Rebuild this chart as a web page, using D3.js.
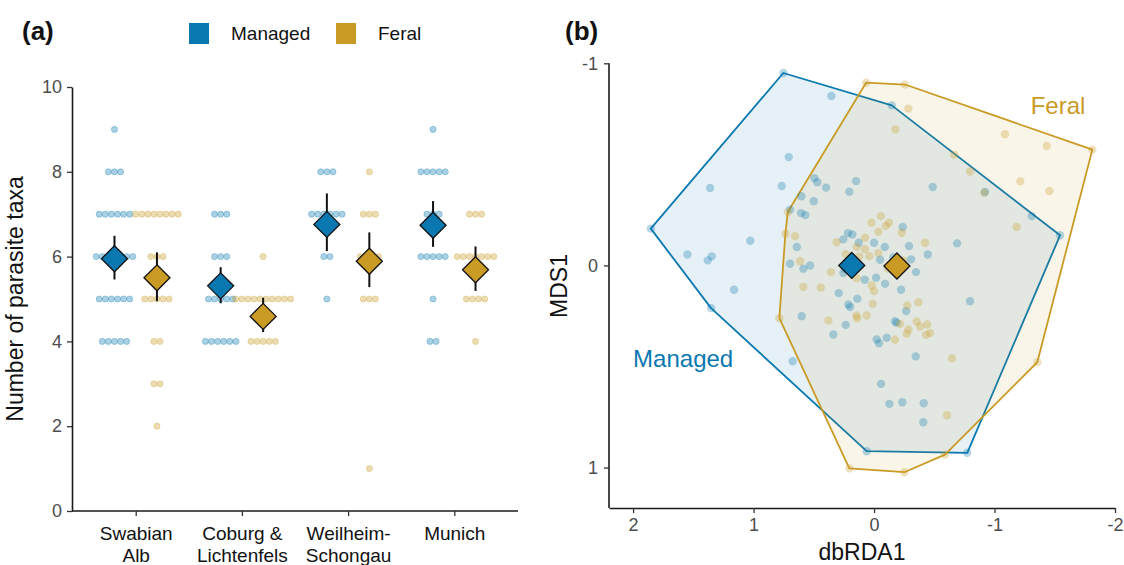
<!DOCTYPE html>
<html>
<head>
<meta charset="utf-8">
<script src="https://cdn.jsdelivr.net/npm/d3@7"></script>
<style>
  html, body { margin: 0; padding: 0; background: #fff; }
  svg { display: block; font-family: "Liberation Sans", Arial, sans-serif; }
</style>
</head>
<body>
<svg id="chart" width="1124" height="565"></svg>
<script>
// ---------------- DATA ----------------
const sites = ["Swabian Alb", "Coburg & Lichtenfels", "Weilheim-Schongau", "Munich"];
const siteLabelLines = [["Swabian", "Alb"], ["Coburg &", "Lichtenfels"], ["Weilheim-", "Schongau"], ["Munich"]];
const groups = ["Managed", "Feral"];
const taxaLevels = [1, 2, 3, 4, 5, 6, 7, 8, 9];
// number of colonies per taxa level (1..9), per site
const managedCounts = [
  [0, 0, 0, 5, 6, 7, 6, 3, 1],
  [0, 0, 0, 6, 5, 3, 3, 0, 0],
  [0, 0, 0, 0, 1, 2, 6, 3, 0],
  [0, 0, 0, 2, 1, 5, 3, 5, 1]
];
const feralCounts = [
  [0, 1, 2, 2, 5, 3, 8, 0, 0],
  [0, 0, 0, 5, 10, 1, 0, 0, 0],
  [1, 0, 0, 0, 3, 4, 3, 1, 0],
  [0, 0, 0, 1, 4, 7, 3, 0, 0]
];
const managedMean  = [5.95, 5.31, 6.76, 6.74];
const managedLower = [5.46, 4.90, 6.13, 6.23];
const managedUpper = [6.49, 5.75, 7.49, 7.31];
const feralMean  = [5.50, 4.59, 5.89, 5.69];
const feralLower = [4.95, 4.22, 5.28, 5.19];
const feralUpper = [6.10, 5.03, 6.57, 6.24];
const yTicksA = [0, 2, 4, 6, 8, 10];

// panel b ordination scores [dbRDA1, MDS1]
const managedPts = [
  [0.753,-0.952],[0.354,-0.838],[0.708,-0.536],[1.361,-0.383],[0.766,-0.393],[0.495,-0.432],
  [0.471,-0.412],[0.398,-0.385],[0.149,-0.417],[0.205,-0.365],[0.603,-0.342],[0.500,-0.318],
  [0.697,-0.276],[0.606,-0.259],[0.570,-0.249],[1.853,-0.182],[1.027,-0.122],[1.549,-0.054],
  [1.347,-0.045],[1.380,-0.025],[0.641,-0.091],[0.216,-0.160],[0.180,-0.153],[0.255,-0.129],
  [0.127,-0.112],[0.000,-0.112],[0.697,-0.008],[0.587,0.016],[0.531,0.000],[0.255,0.038],
  [0.077,0.071],[-0.017,0.061],[-0.050,-0.028],[1.162,0.120],[-0.147,-0.792],[-0.487,-0.388],
  [-0.921,-0.363],[-1.309,-0.244],[-1.544,-0.149],[-0.238,-0.190],[-0.089,-0.091],[-0.290,-0.096],
  [-0.689,-0.109],[-0.446,-0.054],[-0.307,-0.030],[-0.160,-0.041],[-0.349,0.033],[-0.091,0.091],
  [-0.224,0.120],[1.353,0.211],[0.293,0.137],[0.139,0.165],[0.213,0.193],[0.199,0.206],
  [0.600,0.251],[0.235,0.294],[0.338,0.342],[0.675,0.474],[-0.022,0.366],[-0.041,0.385],
  [-0.058,0.586],[0.061,0.919],[-0.797,0.177],[-0.266,0.226],[-0.174,0.276],[-0.188,0.284],
  [-0.105,0.358],[-0.346,0.450],[-0.127,0.685],[-0.235,0.677],[-0.412,0.682],[-0.409,0.776],
  [-0.774,0.927],[0.241,0.015]
];
const feralPts = [
  [0.066,-0.904],[-0.257,-0.895],[-0.285,-0.776],[-0.177,-0.673],[-1.087,-0.649],[-1.433,-0.591],
  [-1.812,-0.573],[-0.666,-0.548],[-0.797,-0.465],[-1.214,-0.416],[-1.455,-0.368],[-0.915,-0.360],
  [-1.184,-0.190],[-0.056,-0.244],[0.022,-0.211],[-0.124,-0.211],[-0.097,-0.195],[-0.036,-0.167],
  [-0.230,-0.162],[0.075,-0.137],[-0.423,-0.112],[0.039,-0.046],[-0.036,-0.061],[0.716,-0.264],
  [0.736,-0.157],[0.656,-0.145],[0.614,-0.021],[0.310,-0.115],[0.075,-0.081],[0.122,-0.045],
  [0.235,-0.056],[0.357,0.033],[0.144,0.063],[0.587,0.107],[0.442,0.110],[0.786,0.261],
  [0.379,0.272],[0.147,0.248],[0.139,0.261],[0.061,0.248],[0.011,0.190],[0.000,0.127],
  [0.019,0.099],[0.205,1.004],[-0.276,0.198],[-0.368,0.182],[-0.216,0.289],[-0.285,0.317],
  [-0.271,0.338],[-0.354,0.277],[-0.382,0.302],[-0.442,0.292],[-0.432,0.343],[-0.465,0.335],
  [-0.174,0.368],[-0.647,0.460],[-0.606,0.741],[-1.355,0.479],[-0.589,0.936],[-0.251,1.023],
  [0.144,-0.091],[-0.116,0.015],[-0.241,-0.025]
];
const managedCentroid = [0.185, 0.000];
const feralCentroid = [-0.190, 0.003];
const xTicksB = [2, 1, 0, -1, -2];
const yTicksB = [-1, 0, 1];

// ---------------- STYLE ----------------
const colManaged = "#0A78B0";
const colFeral = "#C99B25";
const groupColor = [colManaged, colFeral];
const tickTextCol = "#4D4D4D";
const axisCol = "#1a1a1a";

const svg = d3.select("#chart");

function styleAxis(g) {
  g.selectAll(".domain").attr("stroke", axisCol).attr("stroke-width", 1.6);
  g.selectAll(".tick line").attr("stroke", "#333").attr("stroke-width", 1.3);
  g.selectAll(".tick text").attr("fill", tickTextCol).style("font-size", "18px")
    .style("font-family", "'Liberation Sans', Arial, sans-serif");
}

// ================= PANEL A =================
const ya = d3.scaleLinear().domain([0, 10]).range([511, 87]);
const xa = d3.scalePoint().domain(sites).range([72, 518]).padding(0.6);
const dodge = xa.step() * 0.2;
const dotSpacing = 6.1;

const gA = svg.append("g");

// axes
const yAxisA = gA.append("g").attr("transform", "translate(72,0)")
  .call(d3.axisLeft(ya).tickValues(yTicksA).tickSize(5).tickPadding(5).tickSizeOuter(0));
styleAxis(yAxisA);

const xAxisA = gA.append("g").attr("transform", "translate(0,511)")
  .call(d3.axisBottom(xa).tickSize(5).tickSizeOuter(0).tickFormat(""));
styleAxis(xAxisA);
xAxisA.select(".domain").attr("d", "M72,0H518");
xAxisA.selectAll(".tick").each(function(d, i) {
  const t = d3.select(this).append("text").attr("fill", "#111").attr("text-anchor", "middle")
    .style("font-size", "19px");
  siteLabelLines[i].forEach((line, j) => {
    t.append("tspan").attr("x", 0).attr("y", 29 + j * 22).text(line);
  });
});

gA.append("text").attr("transform", "translate(23,299) rotate(-90)")
  .attr("text-anchor", "middle").attr("fill", "#111").style("font-size", "23px")
  .text("Number of parasite taxa");

// dots
const countsByGroup = [managedCounts, feralCounts];
const dotData = [];
sites.forEach((s, i) => {
  groups.forEach((g, gi) => {
    const cx0 = xa(s) + (gi === 0 ? -dodge : dodge);
    countsByGroup[gi][i].forEach((n, li) => {
      for (let k = 0; k < n; k++) {
        dotData.push({ x: cx0 + (k - (n - 1) / 2) * dotSpacing, y: ya(taxaLevels[li]), gi });
      }
    });
  });
});
gA.append("g").selectAll("circle").data(dotData).join("circle")
  .attr("cx", d => d.x).attr("cy", d => d.y).attr("r", 3.1)
  .attr("fill", d => groupColor[d.gi]).attr("fill-opacity", 0.35)
  .attr("stroke", d => groupColor[d.gi]).attr("stroke-opacity", 0.35).attr("stroke-width", 0.8);

// means with error bars
const summaries = [];
sites.forEach((s, i) => {
  summaries.push({ x: xa(s) - dodge, m: managedMean[i], lo: managedLower[i], hi: managedUpper[i], gi: 0 });
  summaries.push({ x: xa(s) + dodge, m: feralMean[i], lo: feralLower[i], hi: feralUpper[i], gi: 1 });
});
const diamondHalf = 13;
const diamondPath = `M0,${-diamondHalf}L${diamondHalf},0L0,${diamondHalf}L${-diamondHalf},0Z`;
gA.append("g").selectAll("line").data(summaries).join("line")
  .attr("x1", d => d.x).attr("x2", d => d.x)
  .attr("y1", d => ya(d.lo)).attr("y2", d => ya(d.hi))
  .attr("stroke", "#111").attr("stroke-width", 2);
gA.append("g").selectAll("path").data(summaries).join("path")
  .attr("transform", d => `translate(${d.x},${ya(d.m)})`)
  .attr("d", diamondPath).attr("fill", d => groupColor[d.gi])
  .attr("stroke", "#111").attr("stroke-width", 1.3);

// tag and legend
svg.append("text").attr("x", 22).attr("y", 40).style("font-size", "26px").style("font-weight", "bold")
  .attr("fill", "#111").text("(a)");
const leg = svg.append("g");
const legX = [189, 336];
groups.forEach((g, gi) => {
  leg.append("rect").attr("x", legX[gi]).attr("y", 23).attr("width", 20).attr("height", 21)
    .attr("fill", groupColor[gi]);
  leg.append("text").attr("x", legX[gi] + 42).attr("y", 40).style("font-size", "19px")
    .attr("fill", "#111").text(g);
});

// ================= PANEL B =================
const xb = d3.scaleLinear().domain([2.2, -2]).range([609, 1115]);
const yb = d3.scaleLinear().domain([-1, 1.2]).range([63.3, 508]);
const gB = svg.append("g");

const ptsByGroup = [managedPts, feralPts];
// hulls
ptsByGroup.forEach((pts, gi) => {
  const hull = d3.polygonHull(pts.map(p => [xb(p[0]), yb(p[1])]));
  gB.append("path").attr("d", "M" + hull.join("L") + "Z")
    .attr("fill", groupColor[gi]).attr("fill-opacity", 0.1)
    .attr("stroke", groupColor[gi]).attr("stroke-width", 1.8).attr("stroke-linejoin", "round");
});
// points
ptsByGroup.forEach((pts, gi) => {
  gB.append("g").selectAll("circle").data(pts).join("circle")
    .attr("cx", d => xb(d[0])).attr("cy", d => yb(d[1])).attr("r", 4.2)
    .attr("fill", groupColor[gi]).attr("fill-opacity", 0.3);
});
// centroids
[managedCentroid, feralCentroid].forEach((c, gi) => {
  gB.append("path").attr("transform", `translate(${xb(c[0])},${yb(c[1])})`)
    .attr("d", diamondPath).attr("fill", groupColor[gi])
    .attr("stroke", "#111").attr("stroke-width", 1.3);
});

// axes
const fmtInt = d => String(d);
const yAxisB = gB.append("g").attr("transform", "translate(609,0)")
  .call(d3.axisLeft(yb).tickValues(yTicksB).tickFormat(fmtInt).tickSize(5).tickPadding(6).tickSizeOuter(0));
styleAxis(yAxisB);
yAxisB.select(".domain").attr("d", `M0,${yb(-1)}V508`);
const xAxisB = gB.append("g").attr("transform", "translate(0,508)")
  .call(d3.axisBottom(xb).tickValues(xTicksB).tickFormat(fmtInt).tickSize(5).tickPadding(5).tickSizeOuter(0));
styleAxis(xAxisB);

gB.append("text").attr("x", 862).attr("y", 560).attr("text-anchor", "middle")
  .attr("fill", "#111").style("font-size", "23px").text("dbRDA1");
gB.append("text").attr("transform", "translate(567,286) rotate(-90)").attr("text-anchor", "middle")
  .attr("fill", "#111").style("font-size", "23px").text("MDS1");

// group annotations
gB.append("text").attr("x", xb(-1.3)).attr("y", yb(-0.75)).attr("fill", colFeral)
  .style("font-size", "24px").text("Feral");
gB.append("text").attr("x", xb(2.0)).attr("y", yb(0.5)).attr("fill", colManaged)
  .style("font-size", "24px").text("Managed");

svg.append("text").attr("x", 565).attr("y", 40).style("font-size", "26px").style("font-weight", "bold")
  .attr("fill", "#111").text("(b)");
</script>
</body>
</html>
